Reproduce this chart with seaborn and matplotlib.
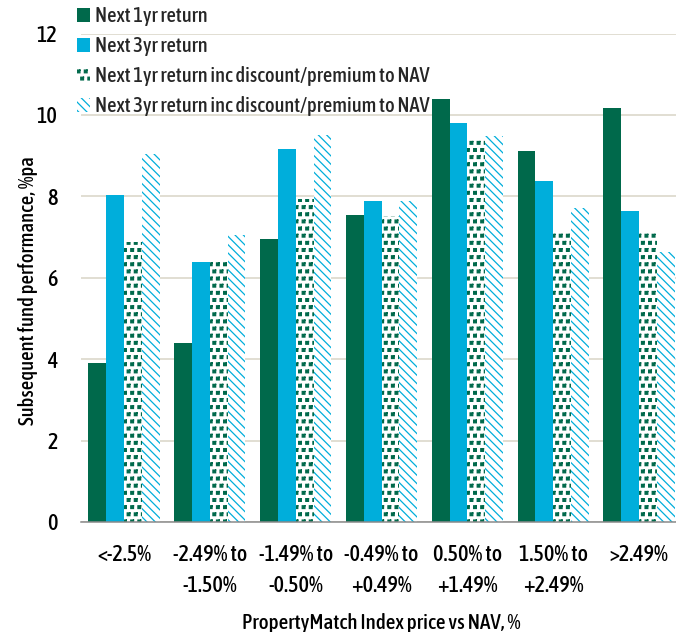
import numpy as np
import pandas as pd
import matplotlib
matplotlib.use("Agg")
import matplotlib.pyplot as plt
import matplotlib.hatch as mhatch
from matplotlib.path import Path
from matplotlib.patches import Patch
from matplotlib import font_manager as fm
import seaborn as sns

# ---------------- data ----------------
categories = ["<-2.5%", "-2.49% to\n-1.50%", "-1.49% to\n-0.50%", "-0.49% to\n+0.49%",
              "0.50% to\n+1.49%", "1.50% to\n+2.49%", ">2.49%"]
series = ["Next 1yr return", "Next 3yr return",
          "Next 1yr return inc discount/premium to NAV",
          "Next 3yr return inc discount/premium to NAV"]
next_1yr = [3.90, 4.40, 6.94, 7.53, 10.38, 9.11, 10.17]
next_3yr = [8.03, 6.39, 9.17, 7.88, 9.80, 8.37, 7.63]
next_1yr_inc = [6.89, 6.39, 7.94, 7.52, 9.38, 7.10, 7.16]
next_3yr_inc = [9.04, 7.06, 9.51, 7.88, 9.47, 7.71, 6.63]
yticks = [0, 2, 4, 6, 8, 10, 12]

GREEN = "#00694B"
CYAN = "#00AEDB"
colors = [GREEN, CYAN, GREEN, CYAN]
hatches = [None, None, "**", "\\\\\\\\"]

# ---------------- custom square hatch (replaces '*' star shape) ----------------
def _square_init(self, hatch, density):
    self.num_rows = hatch.count('*') * 7   # keep even
    self.size = 0.27
    th = np.deg2rad([45, 135, 225, 315, 45])
    self.shape_vertices = np.column_stack([np.cos(th), np.sin(th)])
    self.shape_codes = np.full(len(self.shape_vertices), Path.LINETO, dtype=Path.code_type)
    self.shape_codes[0] = Path.MOVETO
    mhatch.Shapes.__init__(self, hatch, density)

mhatch.Stars.__init__ = _square_init

# ---------------- font: prefer a condensed / narrow sans ----------------
def _w(e):
    w = e.weight
    if isinstance(w, str):
        w = {"normal": 400, "regular": 400, "medium": 500, "bold": 700}.get(w, 400)
    return w

def pick_font():
    entries = [e for e in fm.fontManager.ttflist if e.style == "normal"]
    for test in (lambda e: e.name == "Liberation Sans Narrow",
                 lambda e: "Narrow" in e.name or "Condensed" in e.name,
                 lambda e: str(e.stretch) in ("condensed", "semi-condensed")):
        c = [e for e in entries if test(e)]
        if c:
            c = [e for e in c if 400 <= _w(e) <= 600] or c
            c.sort(key=lambda e: abs(_w(e) - 500))
            return c[0]
    return None

sns.set_theme(style="white")
fe = pick_font()
FP = dict(fname=fe.fname) if fe is not None else dict(family="DejaVu Sans")
plt.rcParams["font.family"] = [fe.name if fe else "DejaVu Sans", "DejaVu Sans"]
plt.rcParams["hatch.linewidth"] = 0.9


def fprop(size):
    return fm.FontProperties(size=size, **FP)


df = pd.DataFrame({
    "band": categories * 4,
    "series": np.repeat(series, len(categories)),
    "value": next_1yr + next_3yr + next_1yr_inc + next_3yr_inc,
})

fig = plt.figure(figsize=(6.76, 6.32), dpi=100)
W, H = 676, 632

# size texts so their widths match the reference
renderer = fig.canvas.get_renderer()
def size_for(text, target_px):
    t = fig.text(0, 0, text, fontproperties=fprop(10))
    w = t.get_window_extent(renderer).width
    t.remove()
    return 10 * target_px / w

tick_fs = size_for("-2.49% to", 74)
leg_fs = size_for("Next 3yr return inc discount/premium to NAV", 333)
xl_fs = size_for("PropertyMatch Index price vs NAV, %", 277)
yl_fs = size_for("Subsequent fund performance, %pa", 268)

ax_left, ax_bottom_px, ax_top_px = 81.1, 522, 33.5
ax = fig.add_axes([ax_left / W, 1 - ax_bottom_px / H, (W - ax_left) / W,
                   (ax_bottom_px - ax_top_px) / H])

sns.barplot(data=df, x="band", y="value", hue="series", order=categories,
            hue_order=series, palette=colors, saturation=1, width=0.83,
            errorbar=None, legend=False, linewidth=0, ax=ax)

for cont, col, h in zip(ax.containers, colors, hatches):
    if h is None:
        continue
    for p in cont:
        p.set_facecolor("white")
        p.set_edgecolor(col)
        p.set_hatch(h)
        p.set_linewidth(0)

ax.set_ylim(0, 12)
ax.set_xlim(-0.5, 6.43)
ax.set_yticks(yticks)
ax.set_yticklabels([str(t) for t in yticks])
ax.set_axisbelow(True)
ax.yaxis.grid(True, color="#D9D4C6", linewidth=1.1)
ax.xaxis.grid(False)
for s in ["left", "right", "top"]:
    ax.spines[s].set_visible(False)
ax.spines["bottom"].set_color("#8A8A8A")
ax.spines["bottom"].set_linewidth(1.1)
ax.tick_params(axis="both", length=0, colors="black")
ax.tick_params(axis="y", pad=17)
ax.tick_params(axis="x", pad=16)
for lab in ax.get_xticklabels() + ax.get_yticklabels():
    lab.set_fontproperties(fprop(tick_fs))
for lab in ax.get_xticklabels():
    lab.set_linespacing(1.5)

ax.set_xlabel("PropertyMatch Index price vs NAV, %", fontproperties=fprop(xl_fs), color="black")
ax.set_ylabel("Subsequent fund performance, %pa", fontproperties=fprop(yl_fs), color="black")
ax.xaxis.set_label_coords(0.504, -0.186)
ax.yaxis.set_label_coords(-0.0725, 0.474)
ax.xaxis.label.set_va("top")

handles = []
for col, h in zip(colors, hatches):
    if h is None:
        handles.append(Patch(facecolor=col, edgecolor=col, linewidth=0))
    else:
        handles.append(Patch(facecolor="white", edgecolor=col, hatch=h, linewidth=0))
px = leg_fs * 100 / 72
fig.legend(handles, series, loc="upper left", bbox_to_anchor=(77 / W, 1 - 6 / H),
           frameon=False, prop=fprop(leg_fs), handlelength=13 / px,
           handleheight=13 / px, handletextpad=5 / px, labelspacing=10 / px,
           borderpad=0, borderaxespad=0)

fig.savefig("out.png", dpi=100)
